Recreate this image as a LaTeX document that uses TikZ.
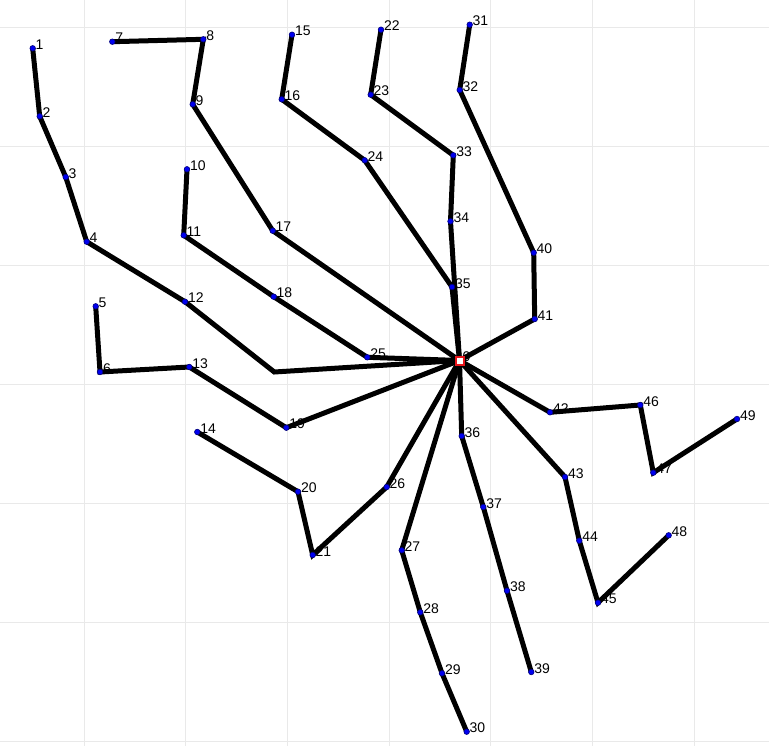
\documentclass[tikz,border=0pt]{standalone}
\usepackage{fontspec}
\setmainfont{Liberation Sans}
\usetikzlibrary{positioning}
\definecolor{Grid}{HTML}{E9E9E9}
\definecolor{Stop}{HTML}{0000F0}
\definecolor{StopRim}{HTML}{00007A}
\definecolor{Depot}{HTML}{E8141A}

\begin{document}
\begin{tikzpicture}[x=1pt,y=-1pt,
    route/.style={line width=5pt,black,line join=miter},
    stop/.style={circle,fill=Stop,draw=StopRim,line width=0.6pt,inner sep=0pt,minimum size=5.6pt},
    depot/.style={rectangle,fill=white,draw=Depot,line width=2pt,inner sep=0pt,minimum size=8pt},
    lbl/.style={anchor=base west,inner sep=0pt,font=\fontsize{14}{14}\selectfont}]
    \useasboundingbox (0,0) rectangle (769,746);
    % faint grid
    \foreach \gx in {84.3,185.3,287.3,389.3,490.7,592.3,694.3}
      \draw[Grid,line width=0.9pt] (\gx,0) -- (\gx,746);
    \foreach \gy in {27.3,146,265,384.3,503,622.3,741}
      \draw[Grid,line width=0.9pt] (0,\gy) -- (769,\gy);
    % stops and their numbers
    \foreach \n/\px/\py in {0/459.5/360.5,
        1/32.7/48.3, 2/39.7/116.3, 3/65.7/177, 4/86.7/241.7, 5/95.7/306.3,
        6/100/372, 7/112.3/41.7, 8/203.3/39.3, 9/192.7/104.3, 10/187/169.3,
        11/183.7/235.3, 12/185/301.7, 13/189.3/367, 14/197.3/432, 15/292/34.7,
        16/281.7/99.3, 17/272.7/230.7, 18/273.7/296.7, 19/286.3/427.7, 20/298/491.7,
        21/312.7/555, 22/381/29.7, 23/370.7/94.7, 24/364.7/160.3, 25/367.3/357.3,
        26/386.7/487, 27/401.7/550.3, 28/420.3/612.3, 29/442/673.3, 30/466.7/731.7,
        31/469.7/24.7, 32/459.7/90, 33/453.3/155.3, 34/450.5/221.3, 35/452/287,
        36/461.7/436, 37/483.3/507, 38/507/590.7, 39/531.3/672, 40/533.7/252.7,
        41/534.7/319, 42/550/412.3, 43/565/477, 44/579.3/540.7, 45/598/602.7,
        46/640.3/405, 47/653.3/472.7, 48/668.7/535.3, 49/737/419} {
      \coordinate (c\n) at (\px,\py);
      \node[lbl] (t\n) at (\px+2.8,\py+1.2) {\n};
    }
    \coordinate (bend) at (274.3,372);
    % routes out of the depot
    \draw[route] (c0) -- (bend) -- (c12) -- (c4) -- (c3) -- (c2) -- (c1);
    \draw[route] (c0) -- (c17) -- (c9) -- (c8) -- (c7);
    \draw[route] (c0) -- (c25) -- (c18) -- (c11) -- (c10);
    \draw[route] (c0) -- (c19) -- (c13) -- (c6) -- (c5);
    \draw[route] (c0) -- (c26) -- (c21) -- (c20) -- (c14);
    \draw[route] (c0) -- (c27) -- (c28) -- (c29) -- (c30);
    \draw[route] (c0) -- (c36) -- (c37) -- (c38) -- (c39);
    \draw[route] (c0) -- (c43) -- (c44) -- (c45) -- (c48);
    \draw[route] (c0) -- (c42) -- (c46) -- (c47) -- (c49);
    \draw[route] (c0) -- (c41) -- (c40) -- (c32) -- (c31);
    \draw[route] (c0) -- (c34) -- (c33) -- (c23) -- (c22);
    \draw[route] (c0) -- (c35) -- (c24) -- (c16) -- (c15);
    \foreach \n in {1,...,49}
      \node[stop] (s\n) at (c\n) {};
    \node[depot] (depot) at (c0) {};
\end{tikzpicture}
\end{document}
